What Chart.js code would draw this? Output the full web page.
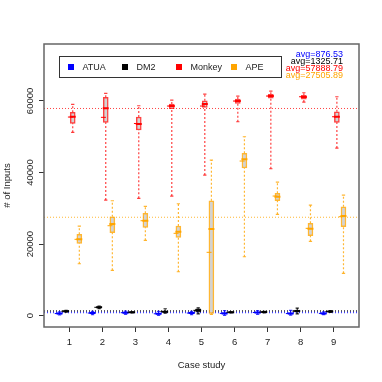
<!DOCTYPE html>
<html><head><meta charset="utf-8">
<script src="https://cdn.jsdelivr.net/npm/chart.js@4"></script>
<style>html,body{margin:0;padding:0;background:#fff}canvas{display:block}</style>
</head><body>
<canvas id="c" width="382" height="382"></canvas>
<script>
const cases = [1, 2, 3, 4, 5, 6, 7, 8, 9];
const seriesNames = ['ATUA', 'DM2', 'Monkey', 'APE'];
const seriesColors = ['#0000FF', '#000000', '#FF0000', '#FFA500'];
const seriesAlpha = ['rgba(0,0,255,0.75)', 'rgba(0,0,0,0.85)', 'rgba(255,0,0,0.75)', 'rgba(255,165,0,0.8)'];
const averages = [876.53, 1325.71, 57888.79, 27505.89];
const yTicks = [0, 20000, 40000, 60000];

const atuaLow  = [200, 300, 400, 100, 300, 100, 400, 150, 300];
const atuaQ1   = [450, 600, 700, 400, 600, 500, 700, 450, 550];
const atuaMed  = [600, 750, 850, 550, 750, 650, 900, 600, 650];
const atuaQ3   = [750, 900, 1000, 700, 900, 850, 1050, 800, 800];
const atuaHigh = [1100, 1200, 1300, 1200, 1200, 1400, 1400, 1500, 1100];
const atuaMean = [600, 750, 850, 550, 750, 650, 900, 600, 650];

const dm2Low  = [1000, 2000, 800, 700, 500, 800, 800, 500, 900];
const dm2Q1   = [1150, 2200, 900, 950, 1000, 900, 950, 1000, 1050];
const dm2Med  = [1250, 2350, 950, 1100, 1550, 950, 1030, 1300, 1170];
const dm2Q3   = [1350, 2500, 1000, 1250, 1950, 1000, 1100, 1600, 1300];
const dm2High = [1500, 2700, 1100, 1950, 2200, 1100, 1200, 2150, 1450];
const dm2Mean = [1250, 2350, 950, 1150, 1500, 950, 1030, 1300, 1170];

const monkeyLow  = [51223, 32315, 32790, 33432, 39298, 54184, 41057, 59686, 46839];
const monkeyQ1   = [53737, 54017, 51866, 57815, 58206, 59323, 60803, 60524, 54017];
const monkeyMed  = [55581, 57927, 53542, 58570, 59128, 59966, 61362, 61083, 55581];
const monkeyQ3   = [56810, 61000, 55497, 59128, 60050, 60524, 61837, 61558, 56977];
const monkeyHigh = [59045, 62116, 58653, 60245, 61921, 61362, 62759, 62284, 61167];
const monkeyMean = [55500, 55413, 53700, 58570, 58570, 59966, 61362, 61167, 55581];

const apeLow  = [14524, 12680, 21059, 12289, 400, 16479, 28321, 20780, 11842];
const apeQ1   = [20221, 23182, 24690, 21897, 670, 41253, 32120, 22344, 24858];
const apeMed  = [21339, 25612, 26534, 23461, 24215, 43683, 33237, 24299, 27846];
const apeQ3   = [22735, 27651, 28600, 25053, 32120, 45358, 34186, 25807, 30444];
const apeHigh = [25053, 32120, 30555, 31282, 43487, 49995, 37342, 30918, 33712];
const apeMean = [21339, 25137, 26534, 23014, 17708, 43208, 33432, 24411, 27651];

const seriesStats = [
  {low: atuaLow, q1: atuaQ1, med: atuaMed, q3: atuaQ3, high: atuaHigh, mean: atuaMean},
  {low: dm2Low, q1: dm2Q1, med: dm2Med, q3: dm2Q3, high: dm2High, mean: dm2Mean},
  {low: monkeyLow, q1: monkeyQ1, med: monkeyMed, q3: monkeyQ3, high: monkeyHigh, mean: monkeyMean},
  {low: apeLow, q1: apeQ1, med: apeMed, q3: apeQ3, high: apeHigh, mean: apeMean}
];
const offsets = [-0.3, -0.1, 0.1, 0.3];
const X_MIN = 0.23, X_MAX = 9.77;
const FONT = '"Liberation Sans", Arial, Helvetica, sans-serif';

const datasets = [];
seriesStats.forEach((st, s) => {
  const pos = cases.map(c => c + offsets[s]);
  // average line
  datasets.push({type: 'line', order: 6, data: [{x: X_MIN, y: averages[s]}, {x: X_MAX, y: averages[s]}],
    borderColor: seriesAlpha[s], borderWidth: s < 2 ? 1.5 : 1, borderDash: [1, 2], pointRadius: 0});
  // whiskers
  const wh = [];
  pos.forEach((p, i) => {
    wh.push({x: p, y: st.low[i]}, {x: p, y: st.q1[i]}, {x: p, y: null},
            {x: p, y: st.q3[i]}, {x: p, y: st.high[i]}, {x: p, y: null});
  });
  datasets.push({type: 'line', order: 5, data: wh, borderColor: seriesAlpha[s], borderWidth: 1.2,
    borderDash: [2, 2], pointRadius: 0, spanGaps: false});
  // staples
  const sp = [];
  pos.forEach((p, i) => {
    sp.push({x: p - 0.05, y: st.high[i]}, {x: p + 0.05, y: st.high[i]}, {x: p, y: null},
            {x: p - 0.05, y: st.low[i]}, {x: p + 0.05, y: st.low[i]}, {x: p, y: null});
  });
  datasets.push({type: 'line', order: 4, data: sp, borderColor: seriesAlpha[s], borderWidth: 1.2,
    pointRadius: 0, spanGaps: false});
  // boxes
  datasets.push({type: 'bar', order: 3, data: pos.map((p, i) => ({x: p, y: [st.q1[i], st.q3[i]]})),
    backgroundColor: '#D3D3D3', borderColor: seriesAlpha[s], borderWidth: 1.5, borderSkipped: false,
    barThickness: 5, grouped: false});
  // medians
  const md = [];
  pos.forEach((p, i) => {
    md.push({x: p - 0.09, y: st.med[i]}, {x: p + 0.09, y: st.med[i]}, {x: p, y: null});
  });
  datasets.push({type: 'line', order: 2, data: md, borderColor: seriesColors[s], borderWidth: 2,
    pointRadius: 0, spanGaps: false});
  // means
  datasets.push({type: 'scatter', order: 1, data: pos.map((p, i) => ({x: p - 0.07, y: st.mean[i]})),
    pointStyle: 'line', pointRadius: 2.5, borderColor: seriesColors[s], borderWidth: 1,
    backgroundColor: seriesColors[s]});
});

const framePlugin = {
  id: 'frame',
  afterDraw(chart) {
    const {ctx, chartArea: a} = chart;
    ctx.save();
    ctx.strokeStyle = '#666';
    ctx.lineWidth = 1.5;
    ctx.strokeRect(a.left, a.top, a.right - a.left, a.bottom - a.top);
    // legend
    const lx = a.left + 15, ly = a.top + 12, lw = 222, lh = 21;
    ctx.fillStyle = '#fff';
    ctx.fillRect(lx, ly, lw, lh);
    ctx.strokeStyle = '#333';
    ctx.lineWidth = 1;
    ctx.strokeRect(lx + 0.5, ly + 0.5, lw, lh);
    ctx.font = '9px ' + FONT;
    ctx.textBaseline = 'middle';
    ctx.textAlign = 'left';
    const sq = [lx + 12, lx + 66, lx + 120, lx + 175];
    seriesNames.forEach((n, s) => {
      ctx.fillStyle = seriesColors[s];
      ctx.fillRect(sq[s] - 3, ly + lh / 2 - 3 + 0.5, 6, 6);
      ctx.fillStyle = '#222';
      ctx.fillText(n, sq[s] + 11.5, ly + lh / 2 + 1);
    });
    // averages text
    ctx.textAlign = 'right';
    averages.forEach((v, s) => {
      ctx.fillStyle = seriesColors[s];
      ctx.fillText('avg=' + v.toFixed(2), a.right - 16, a.top + 10.7 + s * 7.1);
    });
    ctx.restore();
  }
};

new Chart(document.getElementById('c'), {
  type: 'scatter',
  data: {datasets},
  options: {
    responsive: false, animation: false, devicePixelRatio: 1,
    layout: {padding: {top: 44, right: 23, left: 0, bottom: 0}},
    plugins: {legend: {display: false}, tooltip: {enabled: false}},
    scales: {
      x: {
        type: 'linear', min: X_MIN, max: X_MAX, offset: false,
        afterBuildTicks: sc => { sc.ticks = cases.map(v => ({value: v})); },
        afterFit: sc => { sc.height = 55; },
        grid: {drawOnChartArea: false, offset: false, tickLength: 5, color: '#333'},
        border: {display: false},
        ticks: {padding: 5, color: '#222', font: {family: FONT, size: 9.5}, maxRotation: 0, autoSkip: false},
        title: {display: true, text: 'Case study', color: '#222', font: {family: FONT, size: 9.5}, padding: {top: 0, bottom: 11}}
      },
      y: {
        type: 'linear', min: -3150, max: 75900,
        afterBuildTicks: sc => { sc.ticks = yTicks.map(v => ({value: v})); },
        afterFit: sc => { sc.width = 44; },
        grid: {drawOnChartArea: false, tickLength: 5, color: '#333'},
        border: {display: false},
        ticks: {padding: -5, minRotation: 90, maxRotation: 90, crossAlign: 'center', color: '#222',
          font: {family: FONT, size: 9.5}, autoSkip: false, callback: v => String(v)},
        title: {display: true, text: '# of Inputs', color: '#222', font: {family: FONT, size: 9.5}, padding: {top: 2, bottom: 0}}
      }
    }
  },
  plugins: [framePlugin]
});
</script>
</body></html>
